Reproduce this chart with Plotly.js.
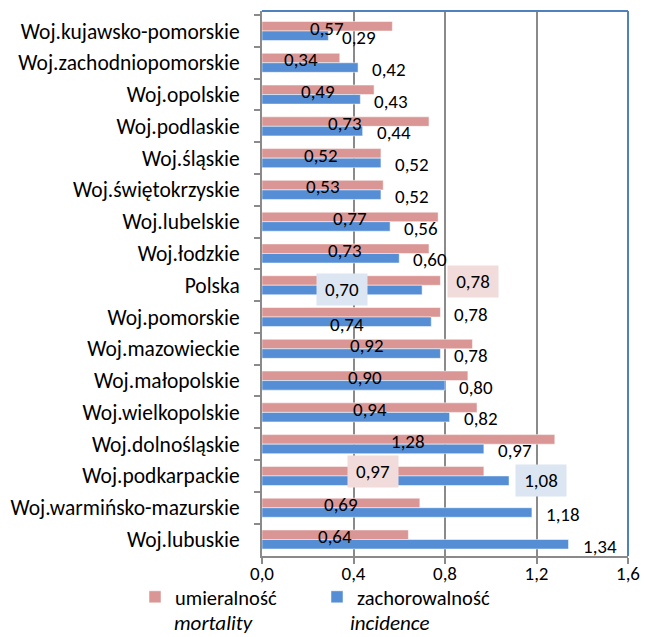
<!DOCTYPE html>
<html>
<head>
<meta charset="utf-8">
<script src="https://cdn.plot.ly/plotly-3.0.1.min.js"></script>
<style>
  html, body { margin: 0; padding: 0; background: #fff; }
  #chart { width: 645px; height: 637px; }
</style>
</head>
<body>
<div id="chart"></div>
<script>
// ---- data ----
const categories = [
  "Woj.kujawsko-pomorskie",
  "Woj.zachodniopomorskie",
  "Woj.opolskie",
  "Woj.podlaskie",
  "Woj.śląskie",
  "Woj.świętokrzyskie",
  "Woj.lubelskie",
  "Woj.łodzkie",
  "Polska",
  "Woj.pomorskie",
  "Woj.mazowieckie",
  "Woj.małopolskie",
  "Woj.wielkopolskie",
  "Woj.dolnośląskie",
  "Woj.podkarpackie",
  "Woj.warmińsko-mazurskie",
  "Woj.lubuskie"
];
const mortality = [0.57, 0.34, 0.49, 0.73, 0.52, 0.53, 0.77, 0.73, 0.78, 0.78, 0.92, 0.90, 0.94, 1.28, 0.97, 0.69, 0.64];
const incidence = [0.29, 0.42, 0.43, 0.44, 0.52, 0.52, 0.56, 0.60, 0.70, 0.74, 0.78, 0.80, 0.82, 0.97, 1.08, 1.18, 1.34];
const seriesNames = ["umieralność", "zachorowalność"];
const seriesSubtitles = ["mortality", "incidence"];
const xTickVals = [0, 0.4, 0.8, 1.2, 1.6];
const xTickText = ["0,0", "0,4", "0,8", "1,2", "1,6"];

// ---- style ----
const FONT = "Carlito, Calibri, Lato, sans-serif";
const PINK = "#d99694";
const BLUE = "#558ed5";
const PINK_BOX = "#f2dcdb";
const BLUE_BOX = "#dce6f2";
const GRID = "#8a8a8a";
const BORDER = "#4f81bd";
const LABEL_SIZE = 19;

const fmt = v => v.toFixed(2).replace(".", ",");

const traces = [
  {
    type: "bar", orientation: "h", name: seriesNames[0],
    y: categories, x: mortality,
    marker: { color: PINK, line: { color: "rgba(255,255,255,0.5)", width: 1 } },
    hoverinfo: "skip"
  },
  {
    type: "bar", orientation: "h", name: seriesNames[1],
    y: categories, x: incidence,
    marker: { color: BLUE, line: { color: "rgba(255,255,255,0.5)", width: 1 } },
    hoverinfo: "skip"
  }
];

const annotations = [];
categories.forEach((c, i) => {
  const m = mortality[i], n = incidence[i];
  const base = { xref: "x", yref: "y", y: c, showarrow: false, xanchor: "center",
                 font: { family: FONT, size: LABEL_SIZE, color: "#000" } };
  const box = { width: 46, height: 27, borderpad: 2 };
  if (c === "Polska") {
    annotations.push(Object.assign({}, base, box, { x: m, text: fmt(m), xshift: 33, yshift: 4, bgcolor: PINK_BOX }));
    annotations.push(Object.assign({}, base, box, { x: n / 2, text: fmt(n), yshift: -4, bgcolor: BLUE_BOX }));
  } else if (c === "Woj.pomorskie") {
    annotations.push(Object.assign({}, base, { x: m, text: fmt(m), xshift: 31, yshift: 3 }));
    annotations.push(Object.assign({}, base, { x: n / 2, text: fmt(n), yshift: -7 }));
  } else if (c === "Woj.podkarpackie") {
    annotations.push(Object.assign({}, base, box, { x: m / 2, text: fmt(m), yshift: 4, bgcolor: PINK_BOX }));
    annotations.push(Object.assign({}, base, box, { x: n, text: fmt(n), xshift: 32, yshift: -5, bgcolor: BLUE_BOX }));
  } else {
    annotations.push(Object.assign({}, base, { x: m / 2, text: fmt(m), yshift: 3 }));
    annotations.push(Object.assign({}, base, { x: n, text: fmt(n), xshift: 31, yshift: -6.5 }));
  }
});

// italic English subtitles under legend entries
annotations.push({ xref: "paper", yref: "paper", x: (173 - 262) / 366, y: (556 - 637) / 545,
  xanchor: "left", yanchor: "bottom", showarrow: false, borderpad: 0, text: "<i>" + seriesSubtitles[0] + "</i>",
  font: { family: FONT, size: 21, color: "#000" } });
annotations.push({ xref: "paper", yref: "paper", x: (349 - 262) / 366, y: (556 - 637) / 545,
  xanchor: "left", yanchor: "bottom", showarrow: false, borderpad: 0, text: "<i>" + seriesSubtitles[1] + "</i>",
  font: { family: FONT, size: 21, color: "#000" } });

const layout = {
  width: 645, height: 637,
  margin: { l: 262, r: 17, t: 11, b: 81, pad: 0 },
  paper_bgcolor: "#fff", plot_bgcolor: "#fff",
  font: { family: FONT, size: 19, color: "#000" },
  barmode: "group", bargap: 0.4, bargroupgap: 0,
  xaxis: {
    range: [0, 1.6], tickvals: xTickVals, ticktext: xTickText,
    showgrid: true, gridcolor: GRID, gridwidth: 2, zeroline: false,
    showline: true, linecolor: GRID, linewidth: 2,
    ticks: "outside", ticklen: 6, tickwidth: 2, tickcolor: GRID,
    ticklabelstandoff: -7,
    tickfont: { family: FONT, size: 19, color: "#000" }, fixedrange: true
  },
  yaxis: {
    type: "category", autorange: "reversed", tickson: "boundaries",
    showgrid: false, zeroline: false,
    showline: true, linecolor: GRID, linewidth: 2,
    ticks: "outside", ticklen: 6, tickwidth: 2, tickcolor: GRID,
    ticklabelstandoff: 16,
    tickfont: { family: FONT, size: 21.5, color: "#000" }, fixedrange: true
  },
  showlegend: true,
  legend: {
    orientation: "h", xref: "paper", yref: "paper",
    x: (135 - 262) / 366, y: (556 - 577) / 545, xanchor: "left", yanchor: "top",
    entrywidth: 137, entrywidthmode: "pixels",
    font: { family: FONT, size: 20.5, color: "#000" },
    bgcolor: "rgba(0,0,0,0)", borderwidth: 0, traceorder: "normal"
  },
  shapes: [
    { type: "line", xref: "paper", yref: "paper", x0: 0, x1: 1, y0: 1, y1: 1, line: { color: BORDER, width: 2 } },
    { type: "line", xref: "paper", yref: "paper", x0: 1, x1: 1, y0: 0, y1: 1, line: { color: BORDER, width: 2 } }
  ],
  annotations: annotations
};

Plotly.newPlot("chart", traces, layout, { displayModeBar: false, staticPlot: true });
</script>
</body>
</html>
